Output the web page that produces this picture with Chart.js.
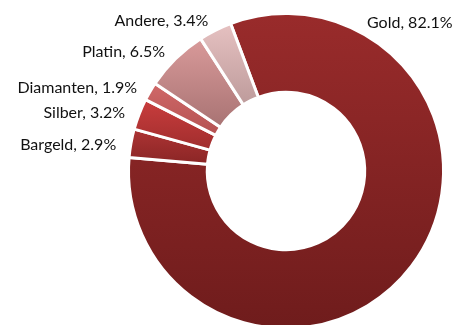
<!DOCTYPE html>
<html>
<head>
<meta charset="utf-8">
<script src="https://cdn.jsdelivr.net/npm/chart.js@4"></script>
<style>
  html, body { margin: 0; padding: 0; background: #fff; overflow: hidden; }
  #wrap { width: 460px; height: 325px; overflow: hidden; }
</style>
</head>
<body>
<div id="wrap"><canvas id="assetChart" width="460" height="345"></canvas></div>
<script>
const labels = ['Gold', 'Bargeld', 'Silber', 'Diamanten', 'Platin', 'Andere'];
const shares = [82.1, 2.9, 3.2, 1.9, 6.5, 3.4];
const topColors = ['#992b2b', '#ad3434', '#c93d3d', '#d06868', '#d99a9a', '#e6c1c1'];
const bottomColors = ['#6f1c1c', '#8a2525', '#a02d2d', '#b45252', '#a87373', '#bd9b9b'];

// gradient per slice, from the slice's top to its bottom
const sliceGradients = {
    id: 'sliceGradients',
    beforeDatasetsDraw(chart) {
        const c = chart.ctx;
        chart.getDatasetMeta(0).data.forEach((arc, i) => {
            const p = arc.getProps(['x', 'y', 'startAngle', 'endAngle', 'innerRadius', 'outerRadius']);
            let ys = [];
            [p.innerRadius, p.outerRadius].forEach(r => {
                ys.push(p.y + r * Math.sin(p.startAngle), p.y + r * Math.sin(p.endAngle));
            });
            // include extreme points if the arc passes top or bottom
            for (let a = -Math.PI * 2.5; a <= Math.PI * 2.5; a += Math.PI / 2) {
                if (a > p.startAngle && a < p.endAngle) ys.push(p.y + p.outerRadius * Math.sin(a));
            }
            const top = Math.min(...ys), bottom = Math.max(...ys);
            const g = c.createLinearGradient(0, top, 0, bottom);
            g.addColorStop(0, topColors[i]);
            g.addColorStop(1, bottomColors[i]);
            arc.options.backgroundColor = g;
        });
    }
};

// labels outside the ring, like "Gold, 82.1%"
const outerLabels = {
    id: 'outerLabels',
    afterDraw(chart) {
        const c = chart.ctx;
        c.save();
        c.font = '16px Lato';
        c.fillStyle = '#111111';
        c.textBaseline = 'middle';
        chart.getDatasetMeta(0).data.forEach((arc, i) => {
            const p = arc.getProps(['x', 'y', 'startAngle', 'endAngle', 'outerRadius']);
            let a = (p.startAngle + p.endAngle) / 2;
            if (i === 0) a = -62 * Math.PI / 180; // best-fit spot for the big slice
            const r = p.outerRadius + 15;
            const x = p.x + r * Math.cos(a);
            const y = p.y + r * Math.sin(a) + 4;
            c.textAlign = Math.cos(a) < 0 ? 'right' : 'left';
            c.fillText(labels[i] + ', ' + shares[i].toFixed(1) + '%', x, y);
        });
        c.restore();
    }
};

new Chart(document.getElementById('assetChart'), {
    type: 'doughnut',
    data: {
        labels: labels,
        datasets: [{
            data: shares,
            backgroundColor: topColors,
            borderColor: '#ffffff',
            borderWidth: 3
        }]
    },
    options: {
        responsive: false,
        animation: false,
        rotation: -20.6,
        cutout: '50%',
        layout: { padding: { top: 12, bottom: 15, left: 127, right: 15 } },
        plugins: {
            legend: { display: false },
            tooltip: { enabled: false }
        }
    },
    plugins: [sliceGradients, outerLabels]
});
</script>
</body>
</html>
